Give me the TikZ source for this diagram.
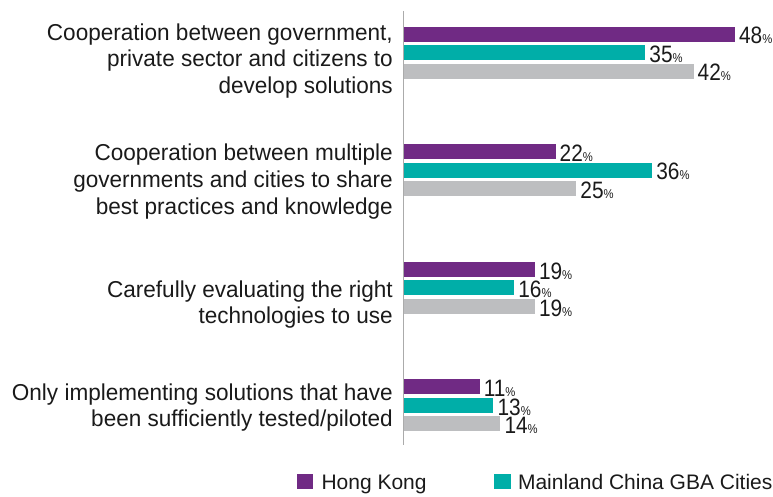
\documentclass[tikz,border=0pt]{standalone}
\usepackage{fontspec}
\setmainfont[FakeStretch=0.98]{Liberation Sans}
\newfontfamily\numfam[FakeStretch=0.88]{Liberation Sans}
\newfontfamily\legfam{Liberation Sans}
\definecolor{hkpurple}{HTML}{702A84}
\definecolor{gbateal}{HTML}{00AEA8}
\definecolor{othergray}{HTML}{BDBEC0}
\definecolor{axisgray}{HTML}{ABABAB}
\definecolor{ink}{HTML}{1A1A1A}
\tikzset{
 barbox/.style={draw=none, inner sep=0, outer sep=0, minimum height=15pt, anchor=north west},
 lbl/.style={anchor=base east, inner sep=0, font=\fontsize{23}{26}\selectfont, text=ink},
 val/.style={anchor=base west, inner sep=0, text=ink},
 legtxt/.style={anchor=base west, inner sep=0, font=\legfam\fontsize{21}{24}\selectfont, text=ink},
 legsq/.style={inner sep=0, outer sep=0, minimum width=16.5pt, minimum height=15.3pt, anchor=north west},
 axisline/.style={draw=axisgray, line width=1.5pt}
}
\newcommand\pv[1]{{\numfam\fontsize{23.7}{24}\selectfont #1}{\numfam\fontsize{12.8}{13}\selectfont\%}}
\begin{document}
\begin{tikzpicture}[x=1pt,y=-1pt]
\useasboundingbox (0,0) rectangle (773,497);
\coordinate (axtop) at (403.7,11);
\coordinate (axbot) at (403.7,445);
\draw[axisline] (axtop) -- (axbot);
\foreach \g/\a/\b/\c in {1/48/35/42, 2/22/36/25, 3/19/16/19, 4/11/13/14} {
  \pgfmathsetmacro\gtop{26.7+117.5*(\g-1)}
  \foreach \k/\v/\col in {1/\a/hkpurple, 2/\b/gbateal, 3/\c/othergray} {
    \pgfmathsetmacro\by{\gtop+18.5*(\k-1)}
    \node[barbox, fill=\col, minimum width=\v*6.9pt] (bar-\g-\k) at (403.7,\by) {};
    \node[val] (val-\g-\k) at ([xshift=4pt,yshift=-2.3pt]bar-\g-\k.south east) {\pv{\v}};
  }
}
\node[lbl] (l1a) at (393,40.7) {Cooperation between government,};
\node[lbl] (l1b) at (393,67.0) {private sector and citizens to};
\node[lbl] (l1c) at (393,93.3) {develop solutions};
\node[lbl] (l2a) at (393,160.7) {Cooperation between multiple};
\node[lbl] (l2b) at (393,187.7) {governments and cities to share};
\node[lbl] (l2c) at (393,214.7) {best practices and knowledge};
\node[lbl] (l3a) at (393,297.3) {Carefully evaluating the right};
\node[lbl] (l3b) at (393,323.3) {technologies to use};
\node[lbl] (l4a) at (393,400.7) {Only implementing solutions that have};
\node[lbl] (l4b) at (393,426.7) {been sufficiently tested/piloted};
\node[legsq, fill=hkpurple] (leg-hk) at (296.7,474) {};
\node[legtxt] (legt-hk) at (321.3,489.3) {Hong Kong};
\node[legsq, fill=gbateal] (leg-gba) at (494,474) {};
\node[legtxt] (legt-gba) at (517.8,489.3) {Mainland China GBA Cities};
\end{tikzpicture}
\end{document}
